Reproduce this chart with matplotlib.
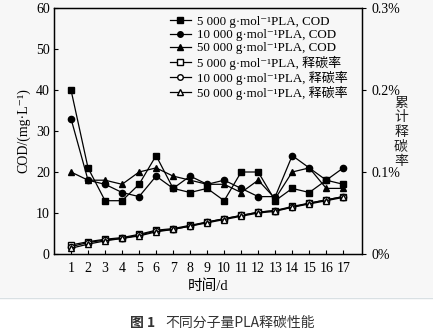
import matplotlib
matplotlib.use("Agg")
import matplotlib.pyplot as plt
from matplotlib.patches import Rectangle
from matplotlib.lines import Line2D

plt.rcParams['font.family'] = ['Liberation Serif', 'Noto Sans CJK SC', 'DejaVu Sans']

days = list(range(1, 18))

cod_5000 = [40, 21, 13, 13, 17, 24, 16, 15, 16, 13, 20, 20, 13, 16, 15, 18, 17]
cod_10000 = [33, 18, 17, 15, 14, 19, 16, 19, 17, 18, 16, 14, 14, 24, 21, 18, 21]
cod_50000 = [20, 18, 18, 17, 20, 21, 19, 18, 17, 17, 15, 18, 13.5, 20, 21, 16, 16]

rel_5000 = [0.011, 0.015, 0.018, 0.020, 0.024, 0.029, 0.031, 0.035, 0.039, 0.043,
            0.047, 0.051, 0.053, 0.058, 0.062, 0.066, 0.070]
rel_10000 = [0.009, 0.014, 0.017, 0.019, 0.023, 0.028, 0.030, 0.034, 0.039, 0.043,
             0.047, 0.051, 0.053, 0.057, 0.062, 0.066, 0.070]
rel_50000 = [0.007, 0.012, 0.016, 0.019, 0.022, 0.027, 0.030, 0.034, 0.038, 0.042,
             0.046, 0.050, 0.052, 0.057, 0.061, 0.065, 0.069]

labels = [
    "5 000 g·mol⁻¹PLA, COD",
    "10 000 g·mol⁻¹PLA, COD",
    "50 000 g·mol⁻¹PLA, COD",
    "5 000 g·mol⁻¹PLA, 释碳率",
    "10 000 g·mol⁻¹PLA, 释碳率",
    "50 000 g·mol⁻¹PLA, 释碳率",
]

fig = plt.figure(figsize=(4.33, 3.36), dpi=100)
fig.patch.set_facecolor("white")
fig.patches.append(Rectangle((0, 1 - 297 / 336), 1, 297 / 336, transform=fig.transFigure,
                             facecolor="#f7f7f7", edgecolor="none", zorder=-10))
fig.lines.append(Line2D([0, 1], [1 - 297.5 / 336] * 2, transform=fig.transFigure,
                        color="#d9e0e3", lw=1))

ax = fig.add_axes([54 / 433, 1 - 254 / 336, (362 - 54) / 433, (254 - 8) / 336])
ax.set_facecolor("none")
ax2 = ax.twinx()

kw = dict(color="black", lw=0.9, ms=4.5)
ax.plot(days, cod_5000, marker="s", **kw)
ax.plot(days, cod_10000, marker="o", **kw)
ax.plot(days, cod_50000, marker="^", **kw)
ax2.plot(days, rel_5000, marker="s", mfc="white", **kw)
ax2.plot(days, rel_10000, marker="o", mfc="white", **kw)
ax2.plot(days, rel_50000, marker="^", mfc="white", **kw)

ax.set_xlim(0, 18.1)
ax.set_ylim(0, 60)
ax2.set_ylim(0, 0.3)
ax.set_xticks(days)
ax.set_yticks(range(0, 61, 10))
ax2.set_yticks([0, 0.1, 0.2, 0.3])
ax2.set_yticklabels(["0%", "0.1%", "0.2%", "0.3%"])

ax.tick_params(axis="both", direction="in", labelsize=10, length=3, width=0.8, pad=3)
ax.tick_params(axis="x", pad=6)
ax2.tick_params(axis="y", direction="out", labelsize=10, length=3, width=0.8)
for a in (ax, ax2):
    for s in a.spines.values():
        s.set_linewidth(0.9)

ax.set_xlabel("时间/d", fontsize=10.5, labelpad=3)
ax.set_ylabel("COD/(mg·L⁻¹)", fontsize=10, labelpad=4)
fig.text(401 / 433, 1 - 132 / 336, "\n".join("累计释碳率"), fontsize=10,
         ha="center", va="center", linespacing=1.05, family=["Noto Sans CJK SC"],
         color="#222222")

handles = []
for m, fc in [("s", "black"), ("o", "black"), ("^", "black"),
              ("s", "white"), ("o", "white"), ("^", "white")]:
    handles.append(Line2D([], [], color="black", lw=0.9, marker=m, ms=4, mfc=fc))
ax.legend(handles, labels, loc="upper right", frameon=False, fontsize=9.4,
          handlelength=1.6, handletextpad=0.5, labelspacing=0.08,
          borderaxespad=0.2, bbox_to_anchor=(0.98, 1.0))

fig.text(130 / 433, 1 - 323 / 336, "图 1", fontsize=10, ha="left",
         va="center", family=["Noto Sans CJK SC"], color="#333333", weight="bold")
fig.text(165 / 433, 1 - 323 / 336, "不同分子量PLA释碳性能", fontsize=10, ha="left",
         va="center", family=["Noto Sans CJK SC"], color="#333333")

fig.savefig("out.png", dpi=100, facecolor=fig.get_facecolor())
